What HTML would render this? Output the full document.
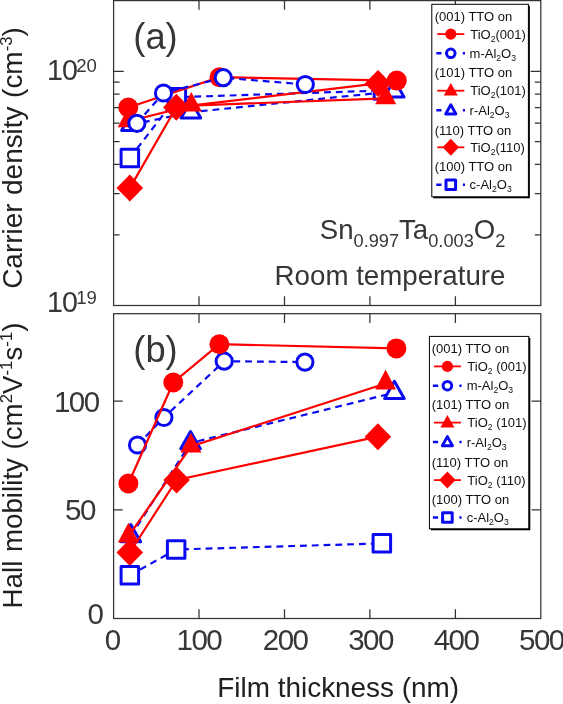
<!DOCTYPE html>
<html lang="en"><head><meta charset="utf-8"><title>Figure</title>
<style>html,body{margin:0;padding:0;background:#fff}svg{display:block}</style></head>
<body>
<svg width="563" height="704" viewBox="0 0 563 704" font-family='"Liberation Sans", sans-serif' fill="#363636">
<rect x="0" y="0" width="563" height="704" fill="#ffffff"/>
<g id="panel-a">
<polyline points="129.8,158.0 176.8,97.2 383.0,90.5" fill="none" stroke="#0a0af0" stroke-width="2.2" stroke-dasharray="6.8 5"/>
<rect x="121.1" y="149.2" width="17.5" height="17.5" fill="#ffffff" stroke="#0a0af0" stroke-width="3.0" stroke-linejoin="round"/>
<rect x="168.1" y="88.5" width="17.5" height="17.5" fill="#ffffff" stroke="#0a0af0" stroke-width="3.0" stroke-linejoin="round"/>
<rect x="374.2" y="81.8" width="17.5" height="17.5" fill="#ffffff" stroke="#0a0af0" stroke-width="3.0" stroke-linejoin="round"/>
<polyline points="131.4,124.8 190.9,112.2 394.2,91.3" fill="none" stroke="#0a0af0" stroke-width="2.2" stroke-dasharray="6.8 5"/>
<polygon points="121.6,130.5 141.2,130.5 131.4,113.3" fill="#ffffff" stroke="#0a0af0" stroke-width="3.0" stroke-linejoin="round"/>
<polygon points="181.1,117.9 200.7,117.9 190.9,100.7" fill="#ffffff" stroke="#0a0af0" stroke-width="3.0" stroke-linejoin="round"/>
<polygon points="384.4,97.0 404.0,97.0 394.2,79.8" fill="#ffffff" stroke="#0a0af0" stroke-width="3.0" stroke-linejoin="round"/>
<polyline points="128.3,107.5 219.5,77.2 396.8,80.6" fill="none" stroke="#ff0000" stroke-width="2.2"/>
<circle cx="128.3" cy="107.5" r="10.0" fill="#ff0000"/>
<circle cx="219.5" cy="77.2" r="10.0" fill="#ff0000"/>
<circle cx="396.8" cy="80.6" r="10.0" fill="#ff0000"/>
<polyline points="128.2,121.3 191.3,105.6 385.7,98.3" fill="none" stroke="#ff0000" stroke-width="2.2"/>
<polygon points="117.7,127.2 138.7,127.2 128.2,107.6" fill="#ff0000"/>
<polygon points="180.8,111.5 201.8,111.5 191.3,91.9" fill="#ff0000"/>
<polygon points="375.2,104.2 396.2,104.2 385.7,84.6" fill="#ff0000"/>
<polyline points="129.8,188.1 176.3,107.3 378.0,83.4" fill="none" stroke="#ff0000" stroke-width="2.2"/>
<polygon points="116.5,188.1 129.8,174.6 143.1,188.1 129.8,201.6" fill="#ff0000"/>
<polygon points="163.0,107.3 176.3,93.8 189.6,107.3 176.3,120.8" fill="#ff0000"/>
<polygon points="364.7,83.4 378.0,69.9 391.3,83.4 378.0,96.9" fill="#ff0000"/>
<polyline points="136.9,123.3 163.5,93.0 223.3,77.7 305.3,84.5" fill="none" stroke="#0a0af0" stroke-width="2.2" stroke-dasharray="6.8 5"/>
<circle cx="136.9" cy="123.3" r="8.1" fill="#ffffff" stroke="#0a0af0" stroke-width="3.0"/>
<circle cx="163.5" cy="93.0" r="8.1" fill="#ffffff" stroke="#0a0af0" stroke-width="3.0"/>
<circle cx="223.3" cy="77.7" r="8.1" fill="#ffffff" stroke="#0a0af0" stroke-width="3.0"/>
<circle cx="305.3" cy="84.5" r="8.1" fill="#ffffff" stroke="#0a0af0" stroke-width="3.0"/>
</g>
<g id="panel-b">
<polyline points="137.5,445.0 163.9,417.5 224.2,361.2 304.9,362.1" fill="none" stroke="#0a0af0" stroke-width="2.2" stroke-dasharray="6.8 5"/>
<circle cx="137.5" cy="445.0" r="8.1" fill="#ffffff" stroke="#0a0af0" stroke-width="3.0"/>
<circle cx="163.9" cy="417.5" r="8.1" fill="#ffffff" stroke="#0a0af0" stroke-width="3.0"/>
<circle cx="224.2" cy="361.2" r="8.1" fill="#ffffff" stroke="#0a0af0" stroke-width="3.0"/>
<circle cx="304.9" cy="362.1" r="8.1" fill="#ffffff" stroke="#0a0af0" stroke-width="3.0"/>
<polyline points="128.4,483.5 173.3,382.5 219.4,344.2 396.4,348.4" fill="none" stroke="#ff0000" stroke-width="2.2"/>
<circle cx="128.4" cy="483.5" r="10.0" fill="#ff0000"/>
<circle cx="173.3" cy="382.5" r="10.0" fill="#ff0000"/>
<circle cx="219.4" cy="344.2" r="10.0" fill="#ff0000"/>
<circle cx="396.4" cy="348.4" r="10.0" fill="#ff0000"/>
<polyline points="130.8,536.0 190.5,443.0 394.4,392.7" fill="none" stroke="#0a0af0" stroke-width="2.2" stroke-dasharray="6.8 5"/>
<polygon points="121.0,541.7 140.6,541.7 130.8,524.5" fill="#ffffff" stroke="#0a0af0" stroke-width="3.0" stroke-linejoin="round"/>
<polygon points="180.7,448.7 200.3,448.7 190.5,431.5" fill="#ffffff" stroke="#0a0af0" stroke-width="3.0" stroke-linejoin="round"/>
<polygon points="384.6,398.4 404.2,398.4 394.4,381.2" fill="#ffffff" stroke="#0a0af0" stroke-width="3.0" stroke-linejoin="round"/>
<polyline points="128.4,536.5 190.9,446.5 385.6,383.5" fill="none" stroke="#ff0000" stroke-width="2.2"/>
<polygon points="117.9,542.4 138.9,542.4 128.4,522.8" fill="#ff0000"/>
<polygon points="180.4,452.4 201.4,452.4 190.9,432.8" fill="#ff0000"/>
<polygon points="375.1,389.4 396.1,389.4 385.6,369.8" fill="#ff0000"/>
<polyline points="129.8,552.5 176.6,480.0 377.9,436.7" fill="none" stroke="#ff0000" stroke-width="2.2"/>
<polygon points="116.5,552.5 129.8,539.0 143.1,552.5 129.8,566.0" fill="#ff0000"/>
<polygon points="163.3,480.0 176.6,466.5 189.9,480.0 176.6,493.5" fill="#ff0000"/>
<polygon points="364.6,436.7 377.9,423.2 391.2,436.7 377.9,450.2" fill="#ff0000"/>
<polyline points="129.8,575.4 176.2,549.5 381.8,543.4" fill="none" stroke="#0a0af0" stroke-width="2.2" stroke-dasharray="6.8 5"/>
<rect x="121.1" y="566.6" width="17.5" height="17.5" fill="#ffffff" stroke="#0a0af0" stroke-width="3.0" stroke-linejoin="round"/>
<rect x="167.4" y="540.8" width="17.5" height="17.5" fill="#ffffff" stroke="#0a0af0" stroke-width="3.0" stroke-linejoin="round"/>
<rect x="373.1" y="534.6" width="17.5" height="17.5" fill="#ffffff" stroke="#0a0af0" stroke-width="3.0" stroke-linejoin="round"/>
</g>
<g stroke="#333333" stroke-width="1.25" fill="none">
<rect x="113.6" y="0.6" width="427.2" height="304.9"/>
<rect x="113.6" y="313.7" width="427.2" height="304.8"/>
<path d="M199.0 0.6v9.2 M199.0 305.5v-9.2 M199.0 313.7v9.2 M199.0 618.5v-9.2"/>
<path d="M284.5 0.6v9.2 M284.5 305.5v-9.2 M284.5 313.7v9.2 M284.5 618.5v-9.2"/>
<path d="M369.9 0.6v9.2 M369.9 305.5v-9.2 M369.9 313.7v9.2 M369.9 618.5v-9.2"/>
<path d="M455.4 0.6v9.2 M455.4 305.5v-9.2 M455.4 313.7v9.2 M455.4 618.5v-9.2"/>
<path d="M113.6 71.3h10.2 M540.8 71.3h-10.2"/>
<path d="M113.6 234.9h6.0 M540.8 234.9h-6.0"/>
<path d="M113.6 193.7h6.0 M540.8 193.7h-6.0"/>
<path d="M113.6 164.4h6.0 M540.8 164.4h-6.0"/>
<path d="M113.6 141.7h6.0 M540.8 141.7h-6.0"/>
<path d="M113.6 123.2h6.0 M540.8 123.2h-6.0"/>
<path d="M113.6 107.5h6.0 M540.8 107.5h-6.0"/>
<path d="M113.6 94.0h6.0 M540.8 94.0h-6.0"/>
<path d="M113.6 82.0h6.0 M540.8 82.0h-6.0"/>
<path d="M113.6 509.8h9.2 M540.8 509.8h-9.2"/>
<path d="M113.6 401.0h9.2 M540.8 401.0h-9.2"/>
</g>
<text x="112.3" y="649.6" font-size="29.5" text-anchor="middle" letter-spacing="-1.5">0</text>
<text x="198.9" y="649.6" font-size="29.5" text-anchor="middle" letter-spacing="-1.5">100</text>
<text x="285.1" y="649.6" font-size="29.5" text-anchor="middle" letter-spacing="-1.5">200</text>
<text x="370.5" y="649.6" font-size="29.5" text-anchor="middle" letter-spacing="-1.5">300</text>
<text x="456.0" y="649.6" font-size="29.5" text-anchor="middle" letter-spacing="-1.5">400</text>
<text x="541.4" y="649.6" font-size="29.5" text-anchor="middle" letter-spacing="-1.5">500</text>
<text x="102.5" y="624.2" font-size="29.5" text-anchor="end" letter-spacing="-1.5">0</text>
<text x="94.9" y="520.0" font-size="29.5" text-anchor="end" letter-spacing="-1.5">50</text>
<text x="98.7" y="411.5" font-size="29.5" text-anchor="end" letter-spacing="-1.5">100</text>
<text x="47.0" y="80.0" font-size="28.6" letter-spacing="-0.9">10</text>
<text x="76.3" y="72.0" font-size="18.6" letter-spacing="-0.2">20</text>
<text x="47.0" y="311.5" font-size="28.6" letter-spacing="-0.9">10</text>
<text x="76.3" y="303.5" font-size="18.6" letter-spacing="-0.2">19</text>
<text x="338.2" y="696.6" font-size="27.9" text-anchor="middle" fill="#202020">Film thickness (nm)</text>
<text transform="translate(21.6 288.8) rotate(-90)" font-size="27.93" word-spacing="0.8" fill="#202020">Carrier density (cm<tspan font-size="16.8" dy="-9.7">-3</tspan><tspan dy="9.7">)</tspan></text>
<text transform="translate(21.8 608.4) rotate(-90)" font-size="27.7" word-spacing="1.0" fill="#202020">Hall mobility (cm<tspan font-size="16.8" dy="-9.7">2</tspan><tspan dy="9.7">V</tspan><tspan font-size="16.8" dy="-9.7">-1</tspan><tspan dy="9.7">s</tspan><tspan font-size="16.8" dy="-9.7">-1</tspan><tspan dy="9.7">)</tspan></text>
<text x="133.3" y="49.2" font-size="36.3">(a)</text>
<text x="133.3" y="361.9" font-size="36.3">(b)</text>
<text x="319.8" y="238.6" font-size="27.6">Sn<tspan font-size="18.2" dy="8">0.997</tspan><tspan dy="-8">Ta</tspan><tspan font-size="18.2" dy="8">0.003</tspan><tspan dy="-8">O</tspan><tspan font-size="18.2" dy="8">2</tspan></text>
<text x="274.6" y="285.3" font-size="27.7">Room temperature</text>
<g>
<rect x="433.3" y="5.8" width="96.6" height="192.5" fill="#000"/>
<rect x="431.8" y="4.3" width="96.6" height="192.5" fill="#fff" stroke="#000" stroke-width="1"/>
<text x="434.7" y="21.0" font-size="13.0" fill="#111">(001) TTO on</text>
<line x1="437.3" y1="34.099999999999994" x2="464.3" y2="34.099999999999994" stroke="#ff0000" stroke-width="1.8"/>
<circle cx="450.8" cy="34.1" r="5.6" fill="#ff0000"/>
<text x="470.2" y="38.699999999999996" font-size="13.0" fill="#111">TiO<tspan font-size="8.6" dy="3">2</tspan><tspan dy="-3">(001)</tspan></text>
<path d="M436.3 53.3h5.2 M462.8 53.3h2.2" stroke="#0a0af0" stroke-width="2.5" fill="none"/>
<circle cx="450.8" cy="53.3" r="4.3" fill="#fff" stroke="#0a0af0" stroke-width="3.0"/>
<text x="469.6" y="57.9" font-size="13.0" fill="#111">m-Al<tspan font-size="8.6" dy="3">2</tspan><tspan dy="-3">O</tspan><tspan font-size="8.6" dy="3">3</tspan></text>
<text x="434.7" y="77.2" font-size="13.0" fill="#111">(101) TTO on</text>
<line x1="437.3" y1="90.7" x2="464.3" y2="90.7" stroke="#ff0000" stroke-width="1.8"/>
<polygon points="443.8,95.5 457.8,95.5 450.8,83.0" fill="#ff0000"/>
<text x="470.2" y="95.3" font-size="13.0" fill="#111">TiO<tspan font-size="8.6" dy="3">2</tspan><tspan dy="-3">(101)</tspan></text>
<path d="M436.3 110.2h5.2 M462.8 110.2h2.2" stroke="#0a0af0" stroke-width="2.5" fill="none"/>
<polygon points="445.7,114.0 455.9,114.0 450.8,104.8" fill="#fff" stroke="#0a0af0" stroke-width="2.9" stroke-linejoin="round"/>
<text x="469.6" y="114.8" font-size="13.0" fill="#111">r-Al<tspan font-size="8.6" dy="3">2</tspan><tspan dy="-3">O</tspan><tspan font-size="8.6" dy="3">3</tspan></text>
<text x="434.7" y="134.60000000000002" font-size="13.0" fill="#111">(110) TTO on</text>
<line x1="437.3" y1="147.3" x2="464.3" y2="147.3" stroke="#ff0000" stroke-width="1.8"/>
<polygon points="442.6,147.3 450.8,138.8 459.0,147.3 450.8,155.8" fill="#ff0000"/>
<text x="470.2" y="151.9" font-size="13.0" fill="#111">TiO<tspan font-size="8.6" dy="3">2</tspan><tspan dy="-3">(110)</tspan></text>
<text x="434.7" y="171.3" font-size="13.0" fill="#111">(100) TTO on</text>
<path d="M436.3 184.70000000000002h5.2 M462.8 184.70000000000002h2.2" stroke="#0a0af0" stroke-width="2.5" fill="none"/>
<rect x="446.0" y="179.9" width="9.6" height="9.6" fill="#ffffff" stroke="#0a0af0" stroke-width="3.0" stroke-linejoin="round"/>
<text x="469.6" y="189.3" font-size="13.0" fill="#111">c-Al<tspan font-size="8.6" dy="3">2</tspan><tspan dy="-3">O</tspan><tspan font-size="8.6" dy="3">3</tspan></text>
</g>
<g>
<rect x="430.9" y="337.9" width="99.4" height="192.4" fill="#000"/>
<rect x="429.4" y="336.4" width="99.4" height="192.4" fill="#fff" stroke="#000" stroke-width="1"/>
<text x="431.7" y="353.2" font-size="13.0" fill="#111">(001) TTO on</text>
<line x1="433.9" y1="366.4" x2="460.9" y2="366.4" stroke="#ff0000" stroke-width="1.8"/>
<circle cx="447.4" cy="366.4" r="5.6" fill="#ff0000"/>
<text x="467.29999999999995" y="371.0" font-size="13.0" fill="#111">TiO<tspan font-size="8.6" dy="3">2</tspan><tspan dy="-3"> (001)</tspan></text>
<path d="M432.9 385.7h5.2 M459.4 385.7h2.2" stroke="#0a0af0" stroke-width="2.5" fill="none"/>
<circle cx="447.4" cy="385.7" r="4.3" fill="#fff" stroke="#0a0af0" stroke-width="3.0"/>
<text x="466.7" y="390.3" font-size="13.0" fill="#111">m-Al<tspan font-size="8.6" dy="3">2</tspan><tspan dy="-3">O</tspan><tspan font-size="8.6" dy="3">3</tspan></text>
<text x="431.7" y="409.3" font-size="13.0" fill="#111">(101) TTO on</text>
<line x1="433.9" y1="422.59999999999997" x2="460.9" y2="422.59999999999997" stroke="#ff0000" stroke-width="1.8"/>
<polygon points="440.4,427.4 454.4,427.4 447.4,414.9" fill="#ff0000"/>
<text x="467.29999999999995" y="427.2" font-size="13.0" fill="#111">TiO<tspan font-size="8.6" dy="3">2</tspan><tspan dy="-3"> (101)</tspan></text>
<path d="M432.9 442.0h5.2 M459.4 442.0h2.2" stroke="#0a0af0" stroke-width="2.5" fill="none"/>
<polygon points="442.3,445.8 452.5,445.8 447.4,436.6" fill="#fff" stroke="#0a0af0" stroke-width="2.9" stroke-linejoin="round"/>
<text x="466.7" y="446.6" font-size="13.0" fill="#111">r-Al<tspan font-size="8.6" dy="3">2</tspan><tspan dy="-3">O</tspan><tspan font-size="8.6" dy="3">3</tspan></text>
<text x="431.7" y="466.90000000000003" font-size="13.0" fill="#111">(110) TTO on</text>
<line x1="433.9" y1="480.09999999999997" x2="460.9" y2="480.09999999999997" stroke="#ff0000" stroke-width="1.8"/>
<polygon points="439.2,480.1 447.4,471.6 455.6,480.1 447.4,488.6" fill="#ff0000"/>
<text x="467.29999999999995" y="484.7" font-size="13.0" fill="#111">TiO<tspan font-size="8.6" dy="3">2</tspan><tspan dy="-3"> (110)</tspan></text>
<text x="431.7" y="503.8" font-size="13.0" fill="#111">(100) TTO on</text>
<path d="M432.9 517.4999999999999h5.2 M459.4 517.4999999999999h2.2" stroke="#0a0af0" stroke-width="2.5" fill="none"/>
<rect x="442.6" y="512.7" width="9.6" height="9.6" fill="#ffffff" stroke="#0a0af0" stroke-width="3.0" stroke-linejoin="round"/>
<text x="466.7" y="522.0999999999999" font-size="13.0" fill="#111">c-Al<tspan font-size="8.6" dy="3">2</tspan><tspan dy="-3">O</tspan><tspan font-size="8.6" dy="3">3</tspan></text>
</g>
</svg>
</body></html>
